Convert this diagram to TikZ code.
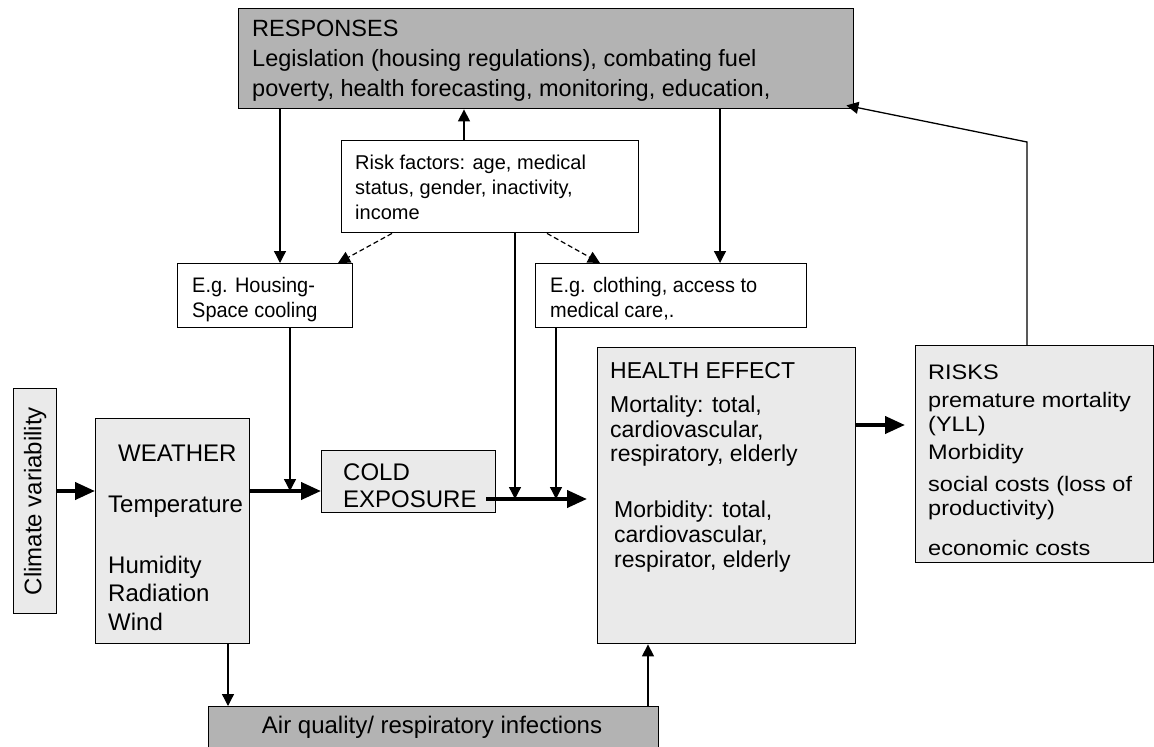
\documentclass[tikz,border=0pt]{standalone}
\usepackage{fontspec}
\setmainfont{Liberation Sans}
\newfontfamily\widefont[FakeStretch=1.12]{Liberation Sans}
\newfontfamily\narrowfont[FakeStretch=0.95]{Liberation Sans}
\usetikzlibrary{arrows.meta}
\definecolor{lightfill}{HTML}{EAEAEA}
\definecolor{darkfill}{HTML}{B3B3B3}
\tikzset{
  lightbox/.style={draw, line width=1.4pt, fill=lightfill, anchor=north west, inner sep=0pt},
  darkbox/.style={draw, line width=1.4pt, fill=darkfill, anchor=north west, inner sep=0pt},
  whitebox/.style={draw, line width=1.4pt, fill=white, anchor=north west, inner sep=0pt},
  txt/.style={anchor=north west, inner sep=0pt, align=left},
  flow/.style={line width=1.3pt, -{Triangle[length=12pt,width=12pt]}},
  bigflow/.style={line width=4pt, -{Triangle[length=20pt,width=17pt]}},
  riskflow/.style={line width=1.2pt, dash pattern=on 5pt off 3pt, -{Triangle[length=12pt,width=12pt]}},
}
\begin{document}
\begin{tikzpicture}[x=1pt,y=-1pt]
    \useasboundingbox (0,0) rectangle (1154,747);
    % boxes
    \node[darkbox, minimum width=615pt, minimum height=100pt] (resp) at (238,8) {};
    \node[whitebox, minimum width=297pt, minimum height=92pt] (riskf) at (341,140) {};
    \node[whitebox, minimum width=175pt, minimum height=64pt] (house) at (177,263) {};
    \node[whitebox, minimum width=271pt, minimum height=64pt] (cloth) at (535,263) {};
    \node[lightbox, minimum width=43pt, minimum height=225pt] (clim) at (13,388) {};
    \node[lightbox, minimum width=154pt, minimum height=225pt] (wx) at (95,418) {};
    \node[lightbox, minimum width=174pt, minimum height=62pt] (cold) at (321,450) {};
    \node[lightbox, minimum width=258pt, minimum height=296pt] (health) at (597,347) {};
    \node[lightbox, minimum width=238pt, minimum height=217pt] (risks) at (915,345) {};
    \node[darkbox, minimum width=450pt, minimum height=70pt] (air) at (208,706) {};
    % texts
    \node[txt, font=\fontsize{23.5}{30}\selectfont] (resptxt) at (252,20)
        {RESPONSES\\Legislation (housing regulations), combating fuel\\poverty, health forecasting, monitoring, education,};
    \node[txt, font=\fontsize{20}{25}\selectfont] (riskftxt) at (355,155)
        {Risk factors: age, medical\\status, gender, inactivity,\\income};
    \node[txt, font=\narrowfont\fontsize{21}{25}\selectfont] (housetxt) at (192,277)
        {E.g. Housing-\\Space cooling};
    \node[txt, font=\narrowfont\fontsize{21}{25}\selectfont] (clothtxt) at (550,277)
        {E.g. clothing, access to\\medical care,.};
    \node[rotate=90, inner sep=0pt, font=\fontsize{24}{28}\selectfont] (climtxt) at (clim.center) {Climate variability};
    \node[txt, font=\fontsize{24}{28.5}\selectfont] (wxhead) at (118,445) {WEATHER};
    \node[txt, font=\fontsize{24}{28.5}\selectfont] (wxtxt) at (108,496)
        {Temperature\\[32pt]Humidity\\Radiation\\Wind};
    \node[txt, font=\fontsize{24}{27}\selectfont] (coldtxt) at (343,464) {COLD\\EXPOSURE};
    \node[txt, font=\fontsize{23}{24.5}\selectfont] (healthtxt) at (610,362)
        {HEALTH EFFECT\\[10pt]Mortality: total,\\cardiovascular,\\respiratory, elderly};
    \node[txt, font=\fontsize{23}{25}\selectfont] (morbtxt) at (614,501)
        {Morbidity: total,\\cardiovascular,\\respirator, elderly};
    \node[txt, font=\widefont\fontsize{21}{24}\selectfont] (riskstxt) at (928,365)
        {RISKS\\[4pt]premature mortality\\(YLL)\\[4pt]Morbidity\\[8pt]social costs (loss of\\productivity)\\[16pt]economic costs};
    \node[font=\fontsize{24}{28}\selectfont, inner sep=0pt] (airtxt) at (432,727) {Air quality/ respiratory infections};
    % arrows
    \draw[flow] (resp.south -| 280,0) -- (house.north -| 280,0);
    \draw[flow] (resp.south -| 720,0) -- (cloth.north -| 720,0);
    \draw[flow] (riskf.north -| 464,0) -- (resp.south -| 464,0);
    \draw[riskflow] (riskf.south -| 392,0) -- (house.north -| 338,0);
    \draw[riskflow] (riskf.south -| 547,0) -- (cloth.north -| 600,0);
    \draw[flow] (house.south -| 290,0) -- (290,491);
    \draw[flow] (riskf.south -| 515,0) -- (515,499);
    \draw[flow] (cloth.south -| 556,0) -- (556,499);
    \draw[bigflow] (clim.east |- 0,491) -- (wx.west |- 0,491);
    \draw[bigflow] (wx.east |- 0,491) -- (cold.west |- 0,491);
    \draw[bigflow] ([xshift=-10pt]cold.east |- 0,499) -- ([xshift=-10pt]health.west |- 0,499);
    \draw[bigflow] (health.east |- 0,425) -- ([xshift=-10pt]risks.west |- 0,425);
    \draw[flow] (wx.south -| 228,0) -- (air.north -| 228,0);
    \draw[flow] (air.north -| 648,0) -- (health.south -| 648,0);
    \draw[flow] (risks.north -| 1027,0) -- (1027,142) -- ([shift={(-8pt,4pt)}]resp.south east);
\end{tikzpicture}
\end{document}
